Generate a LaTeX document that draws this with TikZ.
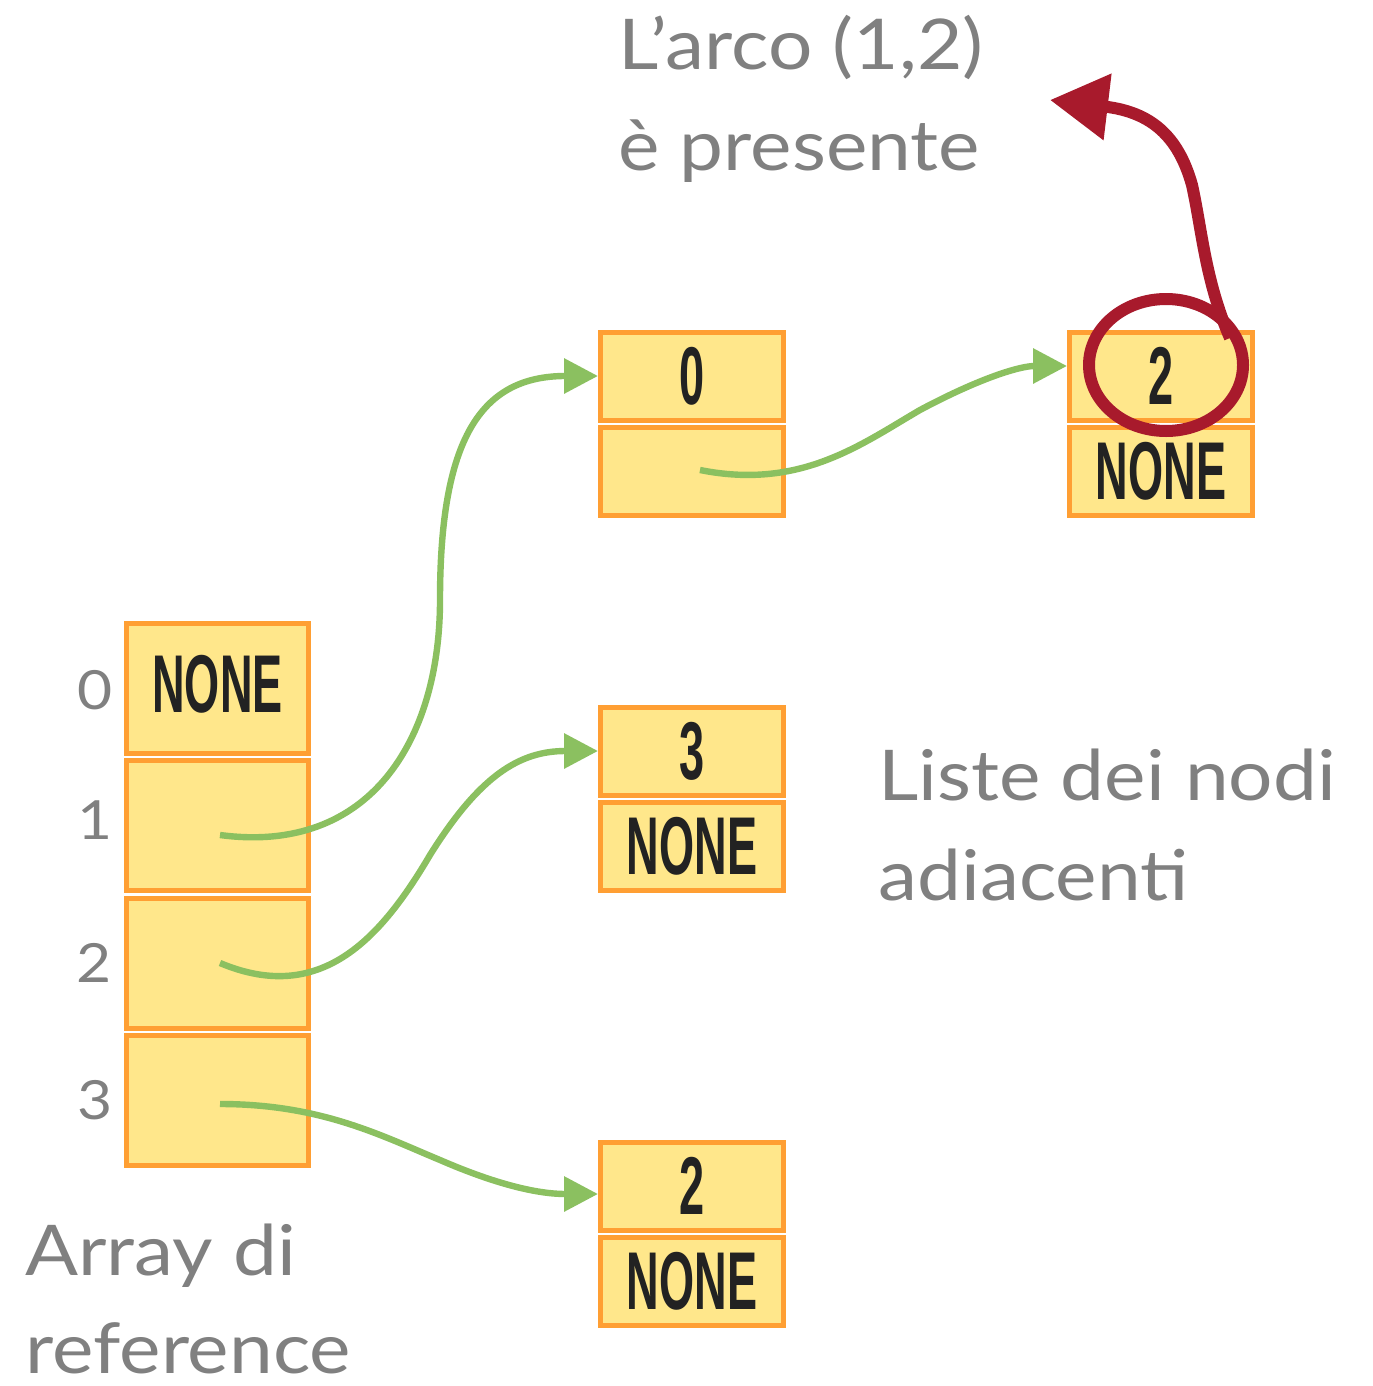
\documentclass[tikz,border=0pt]{standalone}
\usepackage{fontspec}
\usetikzlibrary{arrows.meta,shapes.geometric}
\setmainfont[FakeStretch=1.12,Numbers=Lining]{Lato}
\newfontfamily\cellfont[FakeStretch=0.55]{Liberation Sans}
\definecolor{cellfill}{HTML}{FFE78B}
\definecolor{celledge}{HTML}{FF9F33}
\definecolor{linkgreen}{HTML}{8BC060}
\definecolor{markred}{HTML}{A81A2C}
\definecolor{labelgray}{HTML}{808080}
\definecolor{inkdark}{HTML}{222222}
\begin{document}
\begin{tikzpicture}[x=0.5pt,y=-0.5pt,
  arrcell/.style={draw=celledge,fill=cellfill,line width=2.5pt,minimum width=91pt,minimum height=65pt,inner sep=0pt,
    font=\cellfont\bfseries\fontsize{41}{41}\selectfont,text=inkdark},
  lstcell/.style={draw=celledge,fill=cellfill,line width=2.5pt,minimum width=91.5pt,minimum height=44pt,inner sep=0pt,
    font=\cellfont\bfseries\fontsize{41}{41}\selectfont,text=inkdark},
  idx/.style={text=labelgray,font=\fontsize{27}{27}\selectfont,inner sep=0pt},
  caption/.style={text=labelgray,font=\fontsize{35}{35}\selectfont,anchor=base west,inner sep=0pt,text depth=0pt},
  link/.style={draw=linkgreen,line width=3.2pt,-{Triangle[length=17pt,width=17pt]}}]
\useasboundingbox (0,0) rectangle (1372,1386);

% array of references
\node[arrcell] (a0) at (217.5,688) {\raisebox{4pt}{NONE}};
\node[arrcell] (a1) at (217.5,825.5) {};
\node[arrcell] (a2) at (217.5,963) {};
\node[arrcell] (a3) at (217.5,1100.5) {};
\node[idx] (i0) at (95,690) {0};
\node[idx] (i1) at (95,820) {1};
\node[idx] (i2) at (94,963) {2};
\node[idx] (i3) at (95,1100) {3};

% adjacency list nodes
\node[lstcell] (l1v) at (692,376) {0};
\node[lstcell] (l1n) at (692,471.5) {};
\node[lstcell] (l2v) at (1161,376) {2};
\node[lstcell] (l2n) at (1161,471.5) {NONE};
\node[lstcell] (l3v) at (692,751) {3};
\node[lstcell] (l3n) at (692,846) {NONE};
\node[lstcell] (l4v) at (692,1186) {2};
\node[lstcell] (l4n) at (692,1281) {NONE};

% pointer start points
\coordinate (p1) at (220,835);
\coordinate (p2) at (220,963);
\coordinate (p3) at (220,1104);
\coordinate (p4) at (700,470);

% pointers
\draw[link] (p1) .. controls (370,855) and (440,740) .. (440,600)
  .. controls (440,440) and (480,376) .. (l1v.west);
\draw[link] (p2) .. controls (320,1005) and (380,940) .. (430,855)
  .. controls (480,775) and (520,751) .. (l3v.west);
\draw[link] (p3) .. controls (320,1104) and (380,1135) .. (440,1160)
  .. controls (500,1186) and (540,1194) .. (l4v.west |- 0,1194);
\draw[link] (p4) .. controls (800,490) and (860,445) .. (920,410)
  .. controls (980,378) and (1020,366) .. (l2v.west |- 0,366);

% highlight of the edge (1,2)
\node[draw=markred,line width=6pt,ellipse,minimum width=77pt,minimum height=66pt,inner sep=0pt] (ring) at (1166,365) {};
\coordinate (flag) at (1050,100);
\draw[markred,line width=6pt,-{Triangle[length=29pt,width=32pt]}]
  (1230,338) .. controls (1205,280) and (1202,230) .. (1192,185)
  .. controls (1178,135) and (1150,112) .. (flag);

% captions
\node[caption] (t1) at (618,70) {L’arco (1,2)};
\node[caption] (t2) at (618,170) {è presente};
\node[caption] (t3) at (878,800) {Liste dei nodi};
\node[caption] (t4) at (878,900) {adiacenti};
\node[caption] (t5) at (25,1275) {Array di};
\node[caption] (t6) at (25,1373) {reference};
\end{tikzpicture}
\end{document}
